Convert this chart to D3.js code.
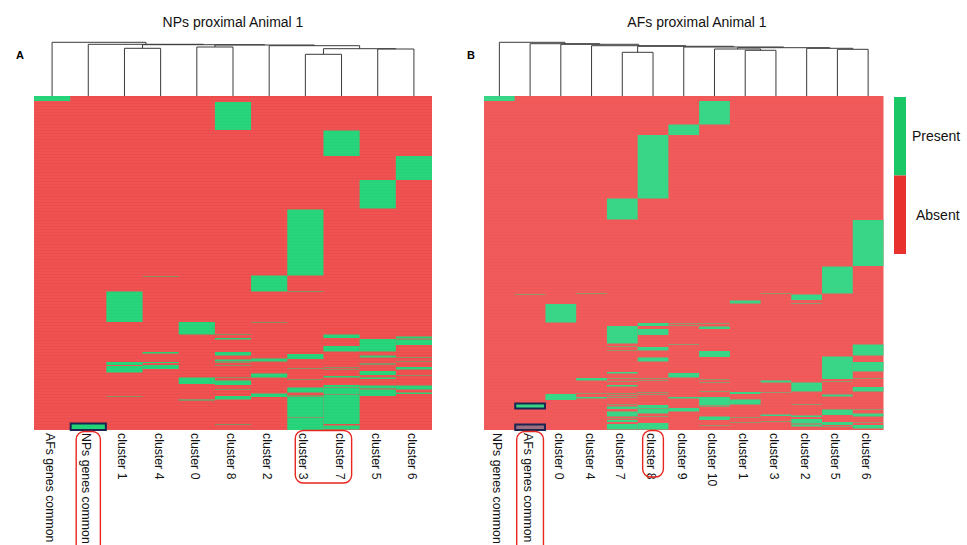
<!DOCTYPE html>
<html>
<head>
<meta charset="utf-8">
<script src="https://cdn.jsdelivr.net/npm/d3@7"></script>
<style>
  body { margin: 0; background: #fff; }
  svg { display: block; font-family: "Liberation Sans", Arial, Helvetica, sans-serif; }
</style>
</head>
<body>
<svg id="chart" width="967" height="545"></svg>
<script>
// Number of gene rows in each presence/absence matrix
const nRows = 668;

// ---- Panel A: NPs proximal ----
const titleA = "NPs proximal Animal 1";
const colsA = ["AFs genes common", "NPs genes common", "cluster 1", "cluster 4", "cluster 0",
               "cluster 8", "cluster 2", "cluster 3", "cluster 7", "cluster 5", "cluster 6"];
// present rows per column, as [firstRow, endRow) ranges
const presentA = [
  [[0, 10]],
  [[655, 668]],
  [[391, 452], [532, 538], [540, 553], [601, 602]],
  [[360, 361], [512, 515], [532, 534], [538, 546]],
  [[452, 477], [563, 576], [607, 609]],
  [[12, 68], [477, 478], [484, 487], [512, 519], [527, 531], [533, 534], [539, 540], [563, 564], [569, 578], [586, 587], [600, 607], [656, 657]],
  [[359, 391], [452, 453], [525, 531], [555, 563], [595, 602]],
  [[227, 359], [391, 392], [516, 526], [545, 546], [566, 567], [583, 593], [598, 599], [601, 642], [643, 668]],
  [[69, 120], [477, 484], [500, 511], [543, 544], [547, 548], [560, 563], [578, 583], [584, 597], [598, 656], [659, 667]],
  [[168, 225], [486, 511], [519, 523], [534, 535], [537, 538], [550, 558], [563, 566], [579, 585], [587, 600]],
  [[120, 168], [481, 485], [487, 498], [523, 524], [531, 532], [542, 547], [558, 559], [579, 587], [593, 596]]
];
// column dendrogram: [height, left, right]; numbers are column indices
const treeA = [53.7, 0, [51.7, 1, [51.3, [47.7, 2, 3], [51, [49, 4, 5], [50.3, 6, [47.3, [41.7, 7, 8], [47, 9, 10]]]]]]];

// ---- Panel B: AFs proximal ----
const titleB = "AFs proximal Animal 1";
const colsB = ["NPs genes common", "AFs genes common", "cluster 0", "cluster 4", "cluster 7", "cluster 8",
               "cluster 9", "cluster 10", "cluster 1", "cluster 3", "cluster 2", "cluster 5", "cluster 6"];
const presentB = [
  [[0, 10]],
  [[396, 397], [615, 625]],
  [[416, 453], [596, 608]],
  [[394, 395], [564, 569], [594, 595], [602, 605]],
  [[205, 247], [460, 495], [500, 501], [509, 510], [552, 555], [564, 565], [570, 571], [578, 581], [594, 595], [598, 599], [603, 604], [616, 617], [621, 626], [631, 641], [644, 645], [648, 652], [656, 667]],
  [[78, 205], [454, 460], [466, 478], [502, 509], [523, 531], [564, 565], [568, 569], [592, 593], [596, 597], [618, 625], [626, 635], [641, 642], [654, 667]],
  [[57, 78], [454, 455], [459, 460], [496, 497], [554, 563], [602, 605], [624, 631]],
  [[10, 57], [454, 455], [461, 466], [510, 522], [566, 567], [572, 573], [591, 592], [602, 619], [621, 622], [641, 648], [658, 659]],
  [[409, 415], [592, 596], [607, 617], [642, 643], [653, 654]],
  [[395, 396], [569, 573], [592, 593], [637, 640], [651, 652]],
  [[397, 408], [414, 415], [573, 591], [616, 617], [639, 642], [646, 655], [657, 661]],
  [[341, 395], [521, 566], [571, 572], [597, 601], [627, 638], [652, 658], [661, 662]],
  [[248, 340], [497, 519], [532, 551], [565, 566], [582, 591], [627, 628], [635, 641], [652, 653], [658, 665]]
];
const treeB = [53.7, 0, [52.3, 1, [51.7, 2, [50.3, 3, [49.7, [43.7, 4, 5], [49, 6, [48.3, [47, 7, [45.7, 8, 9]], [47.7, 10, [46.7, 11, 12]]]]]]]]];

// ---- Legend ----
const legendLabels = ["Present", "Absent"];

const svg = d3.select("#chart");

const heatTop = 96, heatBottom = 430;
const y = d3.scaleLinear().domain([0, nRows]).range([heatTop, heatBottom]);
const treeY = d3.scaleLinear().domain([0, 53.7]).range([heatTop, 42.3]);

function drawPanel(cfg) {
  const g = svg.append("g");
  const x = d3.scaleBand().domain(d3.range(cfg.cols.length)).range([cfg.x0, cfg.x1]);
  const bw = x.bandwidth();

  // absent background for the whole matrix
  g.append("rect")
    .attr("x", cfg.x0).attr("width", cfg.x1 - cfg.x0)
    .attr("y", y(0)).attr("height", y(nRows) - y(0))
    .attr("fill", cfg.red);

  // present cells
  const cells = cfg.present.flatMap((ranges, c) => ranges.map(r => ({ c, s: r[0], e: r[1] })));
  g.selectAll("rect.present").data(cells).join("rect")
    .attr("class", "present")
    .attr("x", d => x(d.c)).attr("width", bw)
    .attr("y", d => y(d.s)).attr("height", d => y(d.e) - y(d.s))
    .attr("fill", cfg.green);

  // faint row borders
  g.selectAll("line.row").data(d3.range(6, nRows, 6)).join("line")
    .attr("class", "row")
    .attr("x1", cfg.x0).attr("x2", cfg.x1)
    .attr("y1", d => y(d)).attr("y2", d => y(d))
    .attr("stroke", "#fff").attr("stroke-width", 0.6)
    .attr("stroke-opacity", cfg.rowOpacity);

  // dendrogram
  const segs = [];
  function layout(node) {
    if (typeof node === "number") return { x: x(node) + bw / 2, h: 0 };
    const l = layout(node[1]), r = layout(node[2]);
    const h = node[0];
    segs.push([l.x, treeY(h), r.x, treeY(h)]);
    segs.push([l.x, treeY(h), l.x, treeY(l.h)]);
    segs.push([r.x, treeY(h), r.x, treeY(r.h)]);
    return { x: (l.x + r.x) / 2, h };
  }
  layout(cfg.tree);
  g.selectAll("line.tree").data(segs).join("line")
    .attr("class", "tree")
    .attr("x1", d => d[0]).attr("y1", d => d[1])
    .attr("x2", d => d[2]).attr("y2", d => d[3])
    .attr("stroke", "#3a3a3a").attr("stroke-width", 1);

  // column labels, read top to bottom
  g.selectAll("text.col").data(cfg.cols).join("text")
    .attr("class", "col")
    .attr("transform", (d, i) => `translate(${x(i) + bw / 2 - 6},433) rotate(90)`)
    .attr("font-size", 12.3).attr("fill", "#111")
    .text(d => d);

  // title and panel tag
  g.append("text").attr("x", cfg.titleX).attr("y", 27).attr("text-anchor", "middle")
    .attr("font-size", 14).attr("fill", "#111").text(cfg.title);
  g.append("text").attr("x", cfg.tagX).attr("y", 59).attr("font-size", 11)
    .attr("font-weight", "bold").attr("fill", "#000").text(cfg.tag);

  // outlined cells
  g.selectAll("rect.box").data(cfg.boxes).join("rect")
    .attr("class", "box")
    .attr("x", d => x(d.c) + 0.5).attr("width", bw - 1)
    .attr("y", d => y(d.s)).attr("height", d => y(d.e) - y(d.s))
    .attr("fill", d => d.fill).attr("stroke", "#1b2550").attr("stroke-width", 2);

  // highlighted labels
  g.selectAll("rect.hl").data(cfg.highlights).join("rect")
    .attr("class", "hl")
    .attr("x", d => x(d.from) + d.pad).attr("width", d => x(d.to) + bw - x(d.from) - 2 * d.pad)
    .attr("y", d => d.top).attr("height", d => d.bottom - d.top)
    .attr("rx", 8).attr("ry", 8)
    .attr("fill", "none").attr("stroke", "#e8251f").attr("stroke-width", 1.4);
}

drawPanel({
  cols: colsA, present: presentA, tree: treeA, title: titleA, tag: "A",
  x0: 34, x1: 432, titleX: 233, tagX: 16,
  red: "#ee4b4b", green: "#22d378", rowOpacity: 0.14,
  boxes: [{ c: 1, s: 655, e: 668, fill: "#22d378" }],
  highlights: [
    { from: 1, to: 1, pad: 6, top: 431.5, bottom: 560 },
    { from: 7, to: 8, pad: 8, top: 430.5, bottom: 483 }
  ]
});

drawPanel({
  cols: colsB, present: presentB, tree: treeB, title: titleB, tag: "B",
  x0: 484, x1: 883.5, titleX: 697, tagX: 467,
  red: "#f05858", green: "#36d686", rowOpacity: 0.06,
  boxes: [{ c: 1, s: 615, e: 625, fill: "#36d686" }, { c: 1, s: 657, e: 668, fill: "#9a6f80" }],
  highlights: [
    { from: 1, to: 1, pad: 2, top: 431.5, bottom: 560 },
    { from: 5, to: 5, pad: 5, top: 430.5, bottom: 477 }
  ]
});

// legend
const legendScale = d3.scaleBand().domain(legendLabels).range([97, 254]);
const legendColor = d3.scaleOrdinal().domain(legendLabels).range(["#19c766", "#e8302f"]);
const lg = svg.append("g");
lg.selectAll("rect").data(legendLabels).join("rect")
  .attr("x", 894).attr("width", 12)
  .attr("y", d => legendScale(d)).attr("height", legendScale.bandwidth())
  .attr("fill", d => legendColor(d));
lg.selectAll("text").data(legendLabels).join("text")
  .attr("x", (d, i) => i === 0 ? 912 : 916)
  .attr("y", d => legendScale(d) + legendScale.bandwidth() / 2 + 5)
  .attr("font-size", 14).attr("fill", "#111")
  .text(d => d);
</script>
</body>
</html>
